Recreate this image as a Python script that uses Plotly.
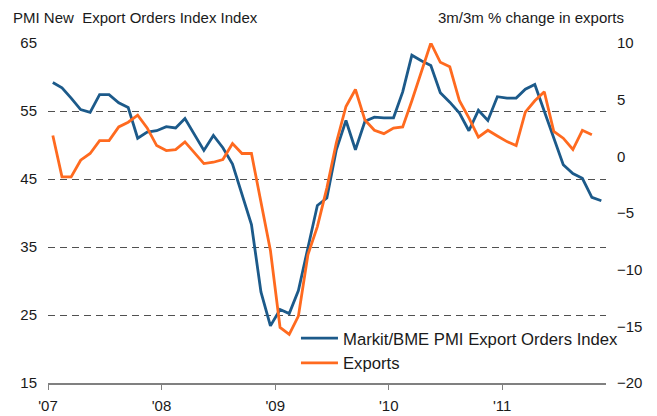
import pandas as pd
import plotly.graph_objects as go

# Monthly categories: Jan 2007 .. Nov 2011
months = pd.date_range("2007-01-01", "2011-11-01", freq="MS")
# place each point at mid-month
mid_months = [m + (m + pd.offsets.MonthBegin(1) - m) / 2 for m in months]

pmi_export_orders = [
    59.2, 58.4, 56.9, 55.2, 54.8, 57.4, 57.4, 56.2, 55.5, 51.0, 51.9, 52.1,
    52.7, 52.5, 53.9, 51.5, 49.2, 51.4, 49.6, 47.2, 42.9, 38.3, 28.4, 23.4,
    25.8, 25.2, 28.6, 34.8, 41.1, 42.2, 49.3, 53.6, 49.3, 53.5, 54.1, 54.0,
    54.0, 57.8, 63.2, 62.4, 61.7, 57.7, 56.3, 54.7, 52.1, 55.1, 53.6, 57.1,
    56.9, 56.9, 58.2, 58.9, 54.9, 51.0, 47.1, 45.8, 45.1, 42.3, 41.8,
]
exports_3m3m = [
    1.84, -1.81, -1.81, -0.34, 0.25, 1.39, 1.39, 2.60, 3.01, 3.63, 2.51, 0.95,
    0.51, 0.60, 1.28, 0.31, -0.64, -0.52, -0.28, 1.13, 0.25, 0.25, -4.1, -8.3,
    -15.1, -15.7, -14.1, -8.7, -6.2, -2.8, 1.2, 4.4, 5.9, 3.2, 2.3, 2.0,
    2.5, 2.6, 4.9, 7.5, 10.0, 8.3, 7.9, 4.9, 3.4, 1.7, 2.3, 1.8,
    1.3, 0.95, 3.9, 4.9, 5.7, 2.2, 1.6, 0.6, 2.3, 1.9,
]

year_ticks = ["2007-01-01", "2008-01-01", "2009-01-01", "2010-01-01", "2011-01-01"]
year_labels = ["'07", "'08", "'09", "'10", "'11"]
left_ticks = [15, 25, 35, 45, 55, 65]
right_ticks = [-20, -15, -10, -5, 0, 5, 10]

BLUE = "#1C5A8A"
ORANGE = "#FF6A1F"
FONT = "Liberation Sans, Arial, sans-serif"

fig = go.Figure()
fig.add_trace(go.Scatter(
    x=mid_months, y=pmi_export_orders, mode="lines",
    name="Markit/BME PMI Export Orders Index",
    line=dict(color=BLUE, width=2.8), yaxis="y",
))
fig.add_trace(go.Scatter(
    x=mid_months[:len(exports_3m3m)], y=exports_3m3m, mode="lines",
    name="Exports",
    line=dict(color=ORANGE, width=2.8), yaxis="y2",
))

# the page body adds an 8px margin, so the figure is 8px smaller on each axis
fig.update_layout(
    width=649, height=408,
    margin=dict(l=40, r=51, t=35, b=33, autoexpand=False),
    paper_bgcolor="white", plot_bgcolor="white",
    font=dict(family=FONT, size=15, color="#1a1a1a"),
    showlegend=True,
    legend=dict(
        x=0.4444, y=0.183, xanchor="left", yanchor="top",
        bgcolor="rgba(0,0,0,0)", font=dict(size=16.7),
        itemwidth=37, tracegroupgap=0,
    ),
    xaxis=dict(
        type="date", range=["2007-01-01", "2011-12-01"],
        tickvals=year_ticks, ticktext=year_labels,
        ticks="outside", ticklen=5, tickcolor="#808080", tickwidth=1,
        showline=True, linecolor="#808080", linewidth=1.5,
        showgrid=False, zeroline=False, ticklabelstandoff=3, automargin=False,
    ),
    yaxis=dict(
        range=[15, 65], tickvals=left_ticks,
        showgrid=True, gridcolor="#505050", gridwidth=1, griddash="7px,5px",
        showline=False, zeroline=False, ticks="", ticklabelstandoff=10,
        automargin=False,
    ),
    yaxis2=dict(
        range=[-20, 10], tickvals=right_ticks,
        overlaying="y", side="right",
        showgrid=False, showline=False, zeroline=False, ticks="",
        ticklabelstandoff=10, automargin=False,
    ),
    annotations=[
        dict(text="PMI New  Export Orders Index Index", xref="paper", yref="paper",
             x=-0.0663, y=1.0744, xanchor="left", yanchor="middle",
             showarrow=False, font=dict(size=15)),
        dict(text="3m/3m % change in exports", xref="paper", yref="paper",
             x=1.0358, y=1.0744, xanchor="right", yanchor="middle",
             showarrow=False, font=dict(size=15)),
    ],
)

fig.write_html("out.html")
